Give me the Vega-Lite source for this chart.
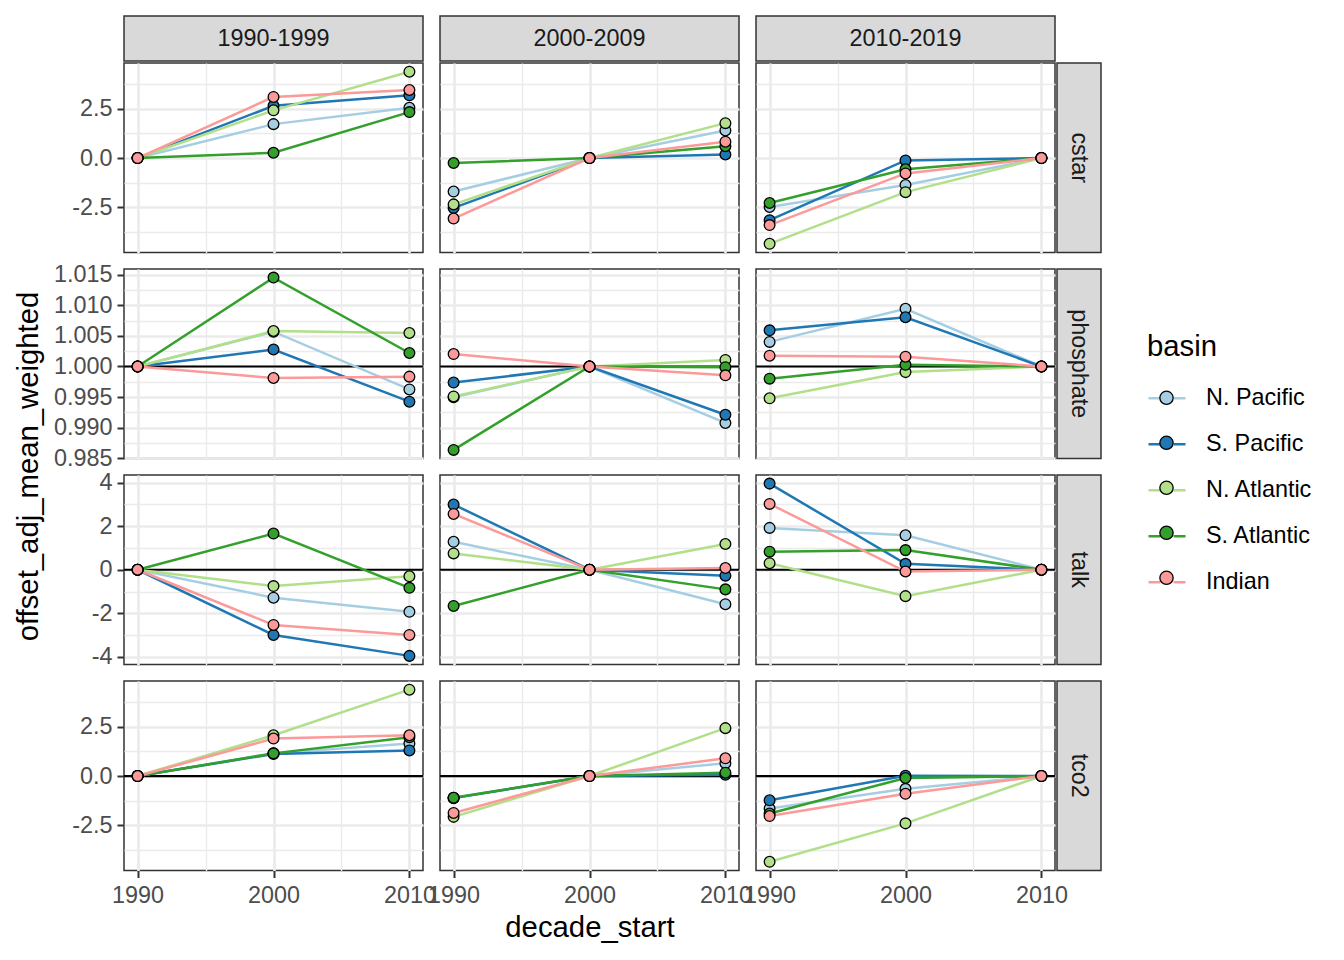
{
"$schema":"https://vega.github.io/schema/vega-lite/v6.json",
"padding":{"left":13,"top":15,"right":5,"bottom":5},
"background":"white",
"columns":6,
"bounds":"flush",
"align":"each",
"spacing":2,
"resolve":{"scale":{"y":"independent"}},
"datasets":{"main":[
{"variable":"cstar","ref":"1990-1999","decade_start":1990,"basin":"N. Pacific","value":0},
{"variable":"cstar","ref":"1990-1999","decade_start":2000,"basin":"N. Pacific","value":1.72},
{"variable":"cstar","ref":"1990-1999","decade_start":2010,"basin":"N. Pacific","value":2.55},
{"variable":"cstar","ref":"1990-1999","decade_start":1990,"basin":"S. Pacific","value":0},
{"variable":"cstar","ref":"1990-1999","decade_start":2000,"basin":"S. Pacific","value":2.65},
{"variable":"cstar","ref":"1990-1999","decade_start":2010,"basin":"S. Pacific","value":3.18},
{"variable":"cstar","ref":"1990-1999","decade_start":1990,"basin":"N. Atlantic","value":0},
{"variable":"cstar","ref":"1990-1999","decade_start":2000,"basin":"N. Atlantic","value":2.42},
{"variable":"cstar","ref":"1990-1999","decade_start":2010,"basin":"N. Atlantic","value":4.38},
{"variable":"cstar","ref":"1990-1999","decade_start":1990,"basin":"S. Atlantic","value":0},
{"variable":"cstar","ref":"1990-1999","decade_start":2000,"basin":"S. Atlantic","value":0.27},
{"variable":"cstar","ref":"1990-1999","decade_start":2010,"basin":"S. Atlantic","value":2.33},
{"variable":"cstar","ref":"1990-1999","decade_start":1990,"basin":"Indian","value":0},
{"variable":"cstar","ref":"1990-1999","decade_start":2000,"basin":"Indian","value":3.1},
{"variable":"cstar","ref":"1990-1999","decade_start":2010,"basin":"Indian","value":3.45},
{"variable":"cstar","ref":"2000-2009","decade_start":1990,"basin":"N. Pacific","value":-1.7},
{"variable":"cstar","ref":"2000-2009","decade_start":2000,"basin":"N. Pacific","value":0},
{"variable":"cstar","ref":"2000-2009","decade_start":2010,"basin":"N. Pacific","value":1.4},
{"variable":"cstar","ref":"2000-2009","decade_start":1990,"basin":"S. Pacific","value":-2.53},
{"variable":"cstar","ref":"2000-2009","decade_start":2000,"basin":"S. Pacific","value":0},
{"variable":"cstar","ref":"2000-2009","decade_start":2010,"basin":"S. Pacific","value":0.18},
{"variable":"cstar","ref":"2000-2009","decade_start":1990,"basin":"N. Atlantic","value":-2.35},
{"variable":"cstar","ref":"2000-2009","decade_start":2000,"basin":"N. Atlantic","value":0},
{"variable":"cstar","ref":"2000-2009","decade_start":2010,"basin":"N. Atlantic","value":1.77},
{"variable":"cstar","ref":"2000-2009","decade_start":1990,"basin":"S. Atlantic","value":-0.25},
{"variable":"cstar","ref":"2000-2009","decade_start":2000,"basin":"S. Atlantic","value":0},
{"variable":"cstar","ref":"2000-2009","decade_start":2010,"basin":"S. Atlantic","value":0.6},
{"variable":"cstar","ref":"2000-2009","decade_start":1990,"basin":"Indian","value":-3.07},
{"variable":"cstar","ref":"2000-2009","decade_start":2000,"basin":"Indian","value":0},
{"variable":"cstar","ref":"2000-2009","decade_start":2010,"basin":"Indian","value":0.83},
{"variable":"cstar","ref":"2010-2019","decade_start":1990,"basin":"N. Pacific","value":-2.48},
{"variable":"cstar","ref":"2010-2019","decade_start":2000,"basin":"N. Pacific","value":-1.37},
{"variable":"cstar","ref":"2010-2019","decade_start":2010,"basin":"N. Pacific","value":0},
{"variable":"cstar","ref":"2010-2019","decade_start":1990,"basin":"S. Pacific","value":-3.15},
{"variable":"cstar","ref":"2010-2019","decade_start":2000,"basin":"S. Pacific","value":-0.12},
{"variable":"cstar","ref":"2010-2019","decade_start":2010,"basin":"S. Pacific","value":0},
{"variable":"cstar","ref":"2010-2019","decade_start":1990,"basin":"N. Atlantic","value":-4.35},
{"variable":"cstar","ref":"2010-2019","decade_start":2000,"basin":"N. Atlantic","value":-1.73},
{"variable":"cstar","ref":"2010-2019","decade_start":2010,"basin":"N. Atlantic","value":0},
{"variable":"cstar","ref":"2010-2019","decade_start":1990,"basin":"S. Atlantic","value":-2.28},
{"variable":"cstar","ref":"2010-2019","decade_start":2000,"basin":"S. Atlantic","value":-0.57},
{"variable":"cstar","ref":"2010-2019","decade_start":2010,"basin":"S. Atlantic","value":0},
{"variable":"cstar","ref":"2010-2019","decade_start":1990,"basin":"Indian","value":-3.4},
{"variable":"cstar","ref":"2010-2019","decade_start":2000,"basin":"Indian","value":-0.78},
{"variable":"cstar","ref":"2010-2019","decade_start":2010,"basin":"Indian","value":0},
{"variable":"phosphate","ref":"1990-1999","decade_start":1990,"basin":"N. Pacific","value":1},
{"variable":"phosphate","ref":"1990-1999","decade_start":2000,"basin":"N. Pacific","value":1.0057},
{"variable":"phosphate","ref":"1990-1999","decade_start":2010,"basin":"N. Pacific","value":0.99624},
{"variable":"phosphate","ref":"1990-1999","decade_start":1990,"basin":"S. Pacific","value":1},
{"variable":"phosphate","ref":"1990-1999","decade_start":2000,"basin":"S. Pacific","value":1.00279},
{"variable":"phosphate","ref":"1990-1999","decade_start":2010,"basin":"S. Pacific","value":0.99424},
{"variable":"phosphate","ref":"1990-1999","decade_start":1990,"basin":"N. Atlantic","value":1},
{"variable":"phosphate","ref":"1990-1999","decade_start":2000,"basin":"N. Atlantic","value":1.00581},
{"variable":"phosphate","ref":"1990-1999","decade_start":2010,"basin":"N. Atlantic","value":1.00548},
{"variable":"phosphate","ref":"1990-1999","decade_start":1990,"basin":"S. Atlantic","value":1},
{"variable":"phosphate","ref":"1990-1999","decade_start":2000,"basin":"S. Atlantic","value":1.01456},
{"variable":"phosphate","ref":"1990-1999","decade_start":2010,"basin":"S. Atlantic","value":1.00221},
{"variable":"phosphate","ref":"1990-1999","decade_start":1990,"basin":"Indian","value":1},
{"variable":"phosphate","ref":"1990-1999","decade_start":2000,"basin":"Indian","value":0.99811},
{"variable":"phosphate","ref":"1990-1999","decade_start":2010,"basin":"Indian","value":0.99834},
{"variable":"phosphate","ref":"2000-2009","decade_start":1990,"basin":"N. Pacific","value":0.99495},
{"variable":"phosphate","ref":"2000-2009","decade_start":2000,"basin":"N. Pacific","value":1},
{"variable":"phosphate","ref":"2000-2009","decade_start":2010,"basin":"N. Pacific","value":0.99075},
{"variable":"phosphate","ref":"2000-2009","decade_start":1990,"basin":"S. Pacific","value":0.99737},
{"variable":"phosphate","ref":"2000-2009","decade_start":2000,"basin":"S. Pacific","value":1},
{"variable":"phosphate","ref":"2000-2009","decade_start":2010,"basin":"S. Pacific","value":0.9921},
{"variable":"phosphate","ref":"2000-2009","decade_start":1990,"basin":"N. Atlantic","value":0.9951},
{"variable":"phosphate","ref":"2000-2009","decade_start":2000,"basin":"N. Atlantic","value":1},
{"variable":"phosphate","ref":"2000-2009","decade_start":2010,"basin":"N. Atlantic","value":1.00108},
{"variable":"phosphate","ref":"2000-2009","decade_start":1990,"basin":"S. Atlantic","value":0.98634},
{"variable":"phosphate","ref":"2000-2009","decade_start":2000,"basin":"S. Atlantic","value":1},
{"variable":"phosphate","ref":"2000-2009","decade_start":2010,"basin":"S. Atlantic","value":0.99989},
{"variable":"phosphate","ref":"2000-2009","decade_start":1990,"basin":"Indian","value":1.00204},
{"variable":"phosphate","ref":"2000-2009","decade_start":2000,"basin":"Indian","value":1},
{"variable":"phosphate","ref":"2000-2009","decade_start":2010,"basin":"Indian","value":0.99855},
{"variable":"phosphate","ref":"2010-2019","decade_start":1990,"basin":"N. Pacific","value":1.00403},
{"variable":"phosphate","ref":"2010-2019","decade_start":2000,"basin":"N. Pacific","value":1.00946},
{"variable":"phosphate","ref":"2010-2019","decade_start":2010,"basin":"N. Pacific","value":1},
{"variable":"phosphate","ref":"2010-2019","decade_start":1990,"basin":"S. Pacific","value":1.00592},
{"variable":"phosphate","ref":"2010-2019","decade_start":2000,"basin":"S. Pacific","value":1.00806},
{"variable":"phosphate","ref":"2010-2019","decade_start":2010,"basin":"S. Pacific","value":1},
{"variable":"phosphate","ref":"2010-2019","decade_start":1990,"basin":"N. Atlantic","value":0.99479},
{"variable":"phosphate","ref":"2010-2019","decade_start":2000,"basin":"N. Atlantic","value":0.99908},
{"variable":"phosphate","ref":"2010-2019","decade_start":2010,"basin":"N. Atlantic","value":1},
{"variable":"phosphate","ref":"2010-2019","decade_start":1990,"basin":"S. Atlantic","value":0.99801},
{"variable":"phosphate","ref":"2010-2019","decade_start":2000,"basin":"S. Atlantic","value":1.00027},
{"variable":"phosphate","ref":"2010-2019","decade_start":2010,"basin":"S. Atlantic","value":1},
{"variable":"phosphate","ref":"2010-2019","decade_start":1990,"basin":"Indian","value":1.00177},
{"variable":"phosphate","ref":"2010-2019","decade_start":2000,"basin":"Indian","value":1.00161},
{"variable":"phosphate","ref":"2010-2019","decade_start":2010,"basin":"Indian","value":1},
{"variable":"talk","ref":"1990-1999","decade_start":1990,"basin":"N. Pacific","value":0},
{"variable":"talk","ref":"1990-1999","decade_start":2000,"basin":"N. Pacific","value":-1.28},
{"variable":"talk","ref":"1990-1999","decade_start":2010,"basin":"N. Pacific","value":-1.93},
{"variable":"talk","ref":"1990-1999","decade_start":1990,"basin":"S. Pacific","value":0},
{"variable":"talk","ref":"1990-1999","decade_start":2000,"basin":"S. Pacific","value":-2.99},
{"variable":"talk","ref":"1990-1999","decade_start":2010,"basin":"S. Pacific","value":-3.95},
{"variable":"talk","ref":"1990-1999","decade_start":1990,"basin":"N. Atlantic","value":0},
{"variable":"talk","ref":"1990-1999","decade_start":2000,"basin":"N. Atlantic","value":-0.75},
{"variable":"talk","ref":"1990-1999","decade_start":2010,"basin":"N. Atlantic","value":-0.3},
{"variable":"talk","ref":"1990-1999","decade_start":1990,"basin":"S. Atlantic","value":0},
{"variable":"talk","ref":"1990-1999","decade_start":2000,"basin":"S. Atlantic","value":1.66},
{"variable":"talk","ref":"1990-1999","decade_start":2010,"basin":"S. Atlantic","value":-0.83},
{"variable":"talk","ref":"1990-1999","decade_start":1990,"basin":"Indian","value":0},
{"variable":"talk","ref":"1990-1999","decade_start":2000,"basin":"Indian","value":-2.53},
{"variable":"talk","ref":"1990-1999","decade_start":2010,"basin":"Indian","value":-2.99},
{"variable":"talk","ref":"2000-2009","decade_start":1990,"basin":"N. Pacific","value":1.28},
{"variable":"talk","ref":"2000-2009","decade_start":2000,"basin":"N. Pacific","value":0},
{"variable":"talk","ref":"2000-2009","decade_start":2010,"basin":"N. Pacific","value":-1.58},
{"variable":"talk","ref":"2000-2009","decade_start":1990,"basin":"S. Pacific","value":2.99},
{"variable":"talk","ref":"2000-2009","decade_start":2000,"basin":"S. Pacific","value":0},
{"variable":"talk","ref":"2000-2009","decade_start":2010,"basin":"S. Pacific","value":-0.27},
{"variable":"talk","ref":"2000-2009","decade_start":1990,"basin":"N. Atlantic","value":0.75},
{"variable":"talk","ref":"2000-2009","decade_start":2000,"basin":"N. Atlantic","value":0},
{"variable":"talk","ref":"2000-2009","decade_start":2010,"basin":"N. Atlantic","value":1.18},
{"variable":"talk","ref":"2000-2009","decade_start":1990,"basin":"S. Atlantic","value":-1.66},
{"variable":"talk","ref":"2000-2009","decade_start":2000,"basin":"S. Atlantic","value":0},
{"variable":"talk","ref":"2000-2009","decade_start":2010,"basin":"S. Atlantic","value":-0.9},
{"variable":"talk","ref":"2000-2009","decade_start":1990,"basin":"Indian","value":2.56},
{"variable":"talk","ref":"2000-2009","decade_start":2000,"basin":"Indian","value":0},
{"variable":"talk","ref":"2000-2009","decade_start":2010,"basin":"Indian","value":0.08},
{"variable":"talk","ref":"2010-2019","decade_start":1990,"basin":"N. Pacific","value":1.92},
{"variable":"talk","ref":"2010-2019","decade_start":2000,"basin":"N. Pacific","value":1.58},
{"variable":"talk","ref":"2010-2019","decade_start":2010,"basin":"N. Pacific","value":0},
{"variable":"talk","ref":"2010-2019","decade_start":1990,"basin":"S. Pacific","value":3.95},
{"variable":"talk","ref":"2010-2019","decade_start":2000,"basin":"S. Pacific","value":0.27},
{"variable":"talk","ref":"2010-2019","decade_start":2010,"basin":"S. Pacific","value":0},
{"variable":"talk","ref":"2010-2019","decade_start":1990,"basin":"N. Atlantic","value":0.3},
{"variable":"talk","ref":"2010-2019","decade_start":2000,"basin":"N. Atlantic","value":-1.21},
{"variable":"talk","ref":"2010-2019","decade_start":2010,"basin":"N. Atlantic","value":0},
{"variable":"talk","ref":"2010-2019","decade_start":1990,"basin":"S. Atlantic","value":0.83},
{"variable":"talk","ref":"2010-2019","decade_start":2000,"basin":"S. Atlantic","value":0.9},
{"variable":"talk","ref":"2010-2019","decade_start":2010,"basin":"S. Atlantic","value":0},
{"variable":"talk","ref":"2010-2019","decade_start":1990,"basin":"Indian","value":3.02},
{"variable":"talk","ref":"2010-2019","decade_start":2000,"basin":"Indian","value":-0.08},
{"variable":"talk","ref":"2010-2019","decade_start":2010,"basin":"Indian","value":0},
{"variable":"tco2","ref":"1990-1999","decade_start":1990,"basin":"N. Pacific","value":0},
{"variable":"tco2","ref":"1990-1999","decade_start":2000,"basin":"N. Pacific","value":1.15},
{"variable":"tco2","ref":"1990-1999","decade_start":2010,"basin":"N. Pacific","value":1.65},
{"variable":"tco2","ref":"1990-1999","decade_start":1990,"basin":"S. Pacific","value":0},
{"variable":"tco2","ref":"1990-1999","decade_start":2000,"basin":"S. Pacific","value":1.12},
{"variable":"tco2","ref":"1990-1999","decade_start":2010,"basin":"S. Pacific","value":1.3},
{"variable":"tco2","ref":"1990-1999","decade_start":1990,"basin":"N. Atlantic","value":0},
{"variable":"tco2","ref":"1990-1999","decade_start":2000,"basin":"N. Atlantic","value":2.07},
{"variable":"tco2","ref":"1990-1999","decade_start":2010,"basin":"N. Atlantic","value":4.38},
{"variable":"tco2","ref":"1990-1999","decade_start":1990,"basin":"S. Atlantic","value":0},
{"variable":"tco2","ref":"1990-1999","decade_start":2000,"basin":"S. Atlantic","value":1.15},
{"variable":"tco2","ref":"1990-1999","decade_start":2010,"basin":"S. Atlantic","value":1.97},
{"variable":"tco2","ref":"1990-1999","decade_start":1990,"basin":"Indian","value":0},
{"variable":"tco2","ref":"1990-1999","decade_start":2000,"basin":"Indian","value":1.9},
{"variable":"tco2","ref":"1990-1999","decade_start":2010,"basin":"Indian","value":2.07},
{"variable":"tco2","ref":"2000-2009","decade_start":1990,"basin":"N. Pacific","value":-1.1},
{"variable":"tco2","ref":"2000-2009","decade_start":2000,"basin":"N. Pacific","value":0},
{"variable":"tco2","ref":"2000-2009","decade_start":2010,"basin":"N. Pacific","value":0.65},
{"variable":"tco2","ref":"2000-2009","decade_start":1990,"basin":"S. Pacific","value":-1.12},
{"variable":"tco2","ref":"2000-2009","decade_start":2000,"basin":"S. Pacific","value":0},
{"variable":"tco2","ref":"2000-2009","decade_start":2010,"basin":"S. Pacific","value":0.07},
{"variable":"tco2","ref":"2000-2009","decade_start":1990,"basin":"N. Atlantic","value":-2.07},
{"variable":"tco2","ref":"2000-2009","decade_start":2000,"basin":"N. Atlantic","value":0},
{"variable":"tco2","ref":"2000-2009","decade_start":2010,"basin":"N. Atlantic","value":2.43},
{"variable":"tco2","ref":"2000-2009","decade_start":1990,"basin":"S. Atlantic","value":-1.1},
{"variable":"tco2","ref":"2000-2009","decade_start":2000,"basin":"S. Atlantic","value":0},
{"variable":"tco2","ref":"2000-2009","decade_start":2010,"basin":"S. Atlantic","value":0.17},
{"variable":"tco2","ref":"2000-2009","decade_start":1990,"basin":"Indian","value":-1.87},
{"variable":"tco2","ref":"2000-2009","decade_start":2000,"basin":"Indian","value":0},
{"variable":"tco2","ref":"2000-2009","decade_start":2010,"basin":"Indian","value":0.9},
{"variable":"tco2","ref":"2010-2019","decade_start":1990,"basin":"N. Pacific","value":-1.65},
{"variable":"tco2","ref":"2010-2019","decade_start":2000,"basin":"N. Pacific","value":-0.65},
{"variable":"tco2","ref":"2010-2019","decade_start":2010,"basin":"N. Pacific","value":0},
{"variable":"tco2","ref":"2010-2019","decade_start":1990,"basin":"S. Pacific","value":-1.23},
{"variable":"tco2","ref":"2010-2019","decade_start":2000,"basin":"S. Pacific","value":0.02},
{"variable":"tco2","ref":"2010-2019","decade_start":2010,"basin":"S. Pacific","value":0},
{"variable":"tco2","ref":"2010-2019","decade_start":1990,"basin":"N. Atlantic","value":-4.35},
{"variable":"tco2","ref":"2010-2019","decade_start":2000,"basin":"N. Atlantic","value":-2.4},
{"variable":"tco2","ref":"2010-2019","decade_start":2010,"basin":"N. Atlantic","value":0},
{"variable":"tco2","ref":"2010-2019","decade_start":1990,"basin":"S. Atlantic","value":-1.9},
{"variable":"tco2","ref":"2010-2019","decade_start":2000,"basin":"S. Atlantic","value":-0.1},
{"variable":"tco2","ref":"2010-2019","decade_start":2010,"basin":"S. Atlantic","value":0},
{"variable":"tco2","ref":"2010-2019","decade_start":1990,"basin":"Indian","value":-2.03},
{"variable":"tco2","ref":"2010-2019","decade_start":2000,"basin":"Indian","value":-0.9},
{"variable":"tco2","ref":"2010-2019","decade_start":2010,"basin":"Indian","value":0}
]},
"concat":[
{"width":299,"height":45,"view":{"fill":"#D9D9D9","stroke":"#333333","strokeWidth":1.5},"data":{"values":[{"label":"1990-1999"}]},"mark":{"type":"text","fontSize":23.4,"color":"#1A1A1A","font":"Liberation Sans"},"encoding":{"text":{"field":"label","type":"nominal"}}},
{"width":12.5,"height":11.8,"view":{"stroke":null},"data":{"values":[]},"mark":"point"},
{"width":299,"height":45,"view":{"fill":"#D9D9D9","stroke":"#333333","strokeWidth":1.5},"data":{"values":[{"label":"2000-2009"}]},"mark":{"type":"text","fontSize":23.4,"color":"#1A1A1A","font":"Liberation Sans"},"encoding":{"text":{"field":"label","type":"nominal"}}},
{"width":12.5,"height":11.8,"view":{"stroke":null},"data":{"values":[]},"mark":"point"},
{"width":299,"height":45,"view":{"fill":"#D9D9D9","stroke":"#333333","strokeWidth":1.5},"data":{"values":[{"label":"2010-2019"}]},"mark":{"type":"text","fontSize":23.4,"color":"#1A1A1A","font":"Liberation Sans"},"encoding":{"text":{"field":"label","type":"nominal"}}},
{"width":12.5,"height":11.8,"view":{"stroke":null},"data":{"values":[]},"mark":"point"},

{"width":299,"height":189.5,"data":{"name":"main"},"layer":[
 {"transform":[{"filter":"datum.variable === 'cstar' && datum.ref === '1990-1999'"}],"mark":{"type":"line","strokeWidth":2.5},"encoding":{
  "x":{"field":"decade_start","type":"quantitative","scale":{"domain":[1989,2011],"nice":false,"zero":false},"axis":{"values":[1990,1995,2000,2005,2010],"title":null,"labels":false,"ticks":false,"gridWidth":{"condition":{"test":"datum.value % 10 === 0","value":2.7},"value":1.4}}},
  "y":{"field":"value","type":"quantitative","scale":{"domain":[-4.79,4.82],"nice":false,"zero":false},"axis":{"values":[-3.75,-2.5,-1.25,0,1.25,2.5,3.75],"title":null,"labelExpr":"abs(datum.value) % 2.5 < 0.001 ? replace(format(datum.value, '.1f'), '−', '-') : ''","gridWidth":{"condition":{"test":"abs(datum.value) % 2.5 < 0.001","value":2.7},"value":1.4},"tickOpacity":{"condition":{"test":"abs(datum.value) % 2.5 < 0.001","value":1},"value":0}}},
  "color":{"field":"basin","type":"nominal","scale":{"domain":["N. Pacific","S. Pacific","N. Atlantic","S. Atlantic","Indian"],"range":["#A6CEE3","#1F78B4","#B2DF8A","#33A02C","#FB9A99"]},"legend":{"title":"basin","orient":"none","legendX":1023,"legendY":317,"symbolType":"M-1,0L-0.36,0M0.36,0L1,0","symbolStrokeWidth":2.5}}}},
 {"transform":[{"filter":"datum.variable === 'cstar' && datum.ref === '1990-1999'"}],"mark":{"type":"point","filled":true,"stroke":"black","strokeWidth":1.3,"size":115,"opacity":1},"encoding":{
  "x":{"field":"decade_start","type":"quantitative","scale":{"domain":[1989,2011],"nice":false,"zero":false},"axis":{"values":[1990,1995,2000,2005,2010],"title":null,"labels":false,"ticks":false,"gridWidth":{"condition":{"test":"datum.value % 10 === 0","value":2.7},"value":1.4}}},
  "y":{"field":"value","type":"quantitative","scale":{"domain":[-4.79,4.82],"nice":false,"zero":false},"axis":{"values":[-3.75,-2.5,-1.25,0,1.25,2.5,3.75],"title":null,"labelExpr":"abs(datum.value) % 2.5 < 0.001 ? replace(format(datum.value, '.1f'), '−', '-') : ''","gridWidth":{"condition":{"test":"abs(datum.value) % 2.5 < 0.001","value":2.7},"value":1.4},"tickOpacity":{"condition":{"test":"abs(datum.value) % 2.5 < 0.001","value":1},"value":0}}},
  "fill":{"field":"basin","type":"nominal","sort":["N. Pacific","S. Pacific","N. Atlantic","S. Atlantic","Indian"],"scale":{"range":["#A6CEE3","#1F78B4","#B2DF8A","#33A02C","#FB9A99"]},"legend":{"title":"basin","orient":"none","legendX":1023,"legendY":317,"titleOpacity":0,"labelOpacity":0,"symbolType":"M-0.36,0A0.36,0.36,0,1,1,0.36,0A0.36,0.36,0,1,1,-0.36,0Z","symbolStrokeColor":"black","symbolStrokeWidth":1.3}}}}
]},
{"width":12.5,"height":11.8,"view":{"stroke":null},"data":{"values":[]},"mark":"point"},
{"width":299,"height":189.5,"data":{"name":"main"},"layer":[
 {"transform":[{"filter":"datum.variable === 'cstar' && datum.ref === '2000-2009'"}],"mark":{"type":"line","strokeWidth":2.5},"encoding":{
  "x":{"field":"decade_start","type":"quantitative","scale":{"domain":[1989,2011],"nice":false,"zero":false},"axis":{"values":[1990,1995,2000,2005,2010],"title":null,"labels":false,"ticks":false,"gridWidth":{"condition":{"test":"datum.value % 10 === 0","value":2.7},"value":1.4}}},
  "y":{"field":"value","type":"quantitative","scale":{"domain":[-4.79,4.82],"nice":false,"zero":false},"axis":{"values":[-3.75,-2.5,-1.25,0,1.25,2.5,3.75],"title":null,"labels":false,"ticks":false,"gridWidth":{"condition":{"test":"abs(datum.value) % 2.5 < 0.001","value":2.7},"value":1.4}}},
  "color":{"field":"basin","type":"nominal","scale":{"domain":["N. Pacific","S. Pacific","N. Atlantic","S. Atlantic","Indian"],"range":["#A6CEE3","#1F78B4","#B2DF8A","#33A02C","#FB9A99"]},"legend":{"title":"basin","orient":"none","legendX":1023,"legendY":317,"symbolType":"M-1,0L-0.36,0M0.36,0L1,0","symbolStrokeWidth":2.5}}}},
 {"transform":[{"filter":"datum.variable === 'cstar' && datum.ref === '2000-2009'"}],"mark":{"type":"point","filled":true,"stroke":"black","strokeWidth":1.3,"size":115,"opacity":1},"encoding":{
  "x":{"field":"decade_start","type":"quantitative","scale":{"domain":[1989,2011],"nice":false,"zero":false},"axis":{"values":[1990,1995,2000,2005,2010],"title":null,"labels":false,"ticks":false,"gridWidth":{"condition":{"test":"datum.value % 10 === 0","value":2.7},"value":1.4}}},
  "y":{"field":"value","type":"quantitative","scale":{"domain":[-4.79,4.82],"nice":false,"zero":false},"axis":{"values":[-3.75,-2.5,-1.25,0,1.25,2.5,3.75],"title":null,"labels":false,"ticks":false,"gridWidth":{"condition":{"test":"abs(datum.value) % 2.5 < 0.001","value":2.7},"value":1.4}}},
  "fill":{"field":"basin","type":"nominal","sort":["N. Pacific","S. Pacific","N. Atlantic","S. Atlantic","Indian"],"scale":{"range":["#A6CEE3","#1F78B4","#B2DF8A","#33A02C","#FB9A99"]},"legend":{"title":"basin","orient":"none","legendX":1023,"legendY":317,"titleOpacity":0,"labelOpacity":0,"symbolType":"M-0.36,0A0.36,0.36,0,1,1,0.36,0A0.36,0.36,0,1,1,-0.36,0Z","symbolStrokeColor":"black","symbolStrokeWidth":1.3}}}}
]},
{"width":12.5,"height":11.8,"view":{"stroke":null},"data":{"values":[]},"mark":"point"},
{"width":299,"height":189.5,"data":{"name":"main"},"layer":[
 {"transform":[{"filter":"datum.variable === 'cstar' && datum.ref === '2010-2019'"}],"mark":{"type":"line","strokeWidth":2.5},"encoding":{
  "x":{"field":"decade_start","type":"quantitative","scale":{"domain":[1989,2011],"nice":false,"zero":false},"axis":{"values":[1990,1995,2000,2005,2010],"title":null,"labels":false,"ticks":false,"gridWidth":{"condition":{"test":"datum.value % 10 === 0","value":2.7},"value":1.4}}},
  "y":{"field":"value","type":"quantitative","scale":{"domain":[-4.79,4.82],"nice":false,"zero":false},"axis":{"values":[-3.75,-2.5,-1.25,0,1.25,2.5,3.75],"title":null,"labels":false,"ticks":false,"gridWidth":{"condition":{"test":"abs(datum.value) % 2.5 < 0.001","value":2.7},"value":1.4}}},
  "color":{"field":"basin","type":"nominal","scale":{"domain":["N. Pacific","S. Pacific","N. Atlantic","S. Atlantic","Indian"],"range":["#A6CEE3","#1F78B4","#B2DF8A","#33A02C","#FB9A99"]},"legend":{"title":"basin","orient":"none","legendX":1023,"legendY":317,"symbolType":"M-1,0L-0.36,0M0.36,0L1,0","symbolStrokeWidth":2.5}}}},
 {"transform":[{"filter":"datum.variable === 'cstar' && datum.ref === '2010-2019'"}],"mark":{"type":"point","filled":true,"stroke":"black","strokeWidth":1.3,"size":115,"opacity":1},"encoding":{
  "x":{"field":"decade_start","type":"quantitative","scale":{"domain":[1989,2011],"nice":false,"zero":false},"axis":{"values":[1990,1995,2000,2005,2010],"title":null,"labels":false,"ticks":false,"gridWidth":{"condition":{"test":"datum.value % 10 === 0","value":2.7},"value":1.4}}},
  "y":{"field":"value","type":"quantitative","scale":{"domain":[-4.79,4.82],"nice":false,"zero":false},"axis":{"values":[-3.75,-2.5,-1.25,0,1.25,2.5,3.75],"title":null,"labels":false,"ticks":false,"gridWidth":{"condition":{"test":"abs(datum.value) % 2.5 < 0.001","value":2.7},"value":1.4}}},
  "fill":{"field":"basin","type":"nominal","sort":["N. Pacific","S. Pacific","N. Atlantic","S. Atlantic","Indian"],"scale":{"range":["#A6CEE3","#1F78B4","#B2DF8A","#33A02C","#FB9A99"]},"legend":{"title":"basin","orient":"none","legendX":1023,"legendY":317,"titleOpacity":0,"labelOpacity":0,"symbolType":"M-0.36,0A0.36,0.36,0,1,1,0.36,0A0.36,0.36,0,1,1,-0.36,0Z","symbolStrokeColor":"black","symbolStrokeWidth":1.3}}}}
]},
{"width":44,"height":189.5,"view":{"fill":"#D9D9D9","stroke":"#333333","strokeWidth":1.5},"data":{"values":[{"label":"cstar"}]},"mark":{"type":"text","angle":90,"fontSize":23.4,"color":"#1A1A1A","font":"Liberation Sans"},"encoding":{"text":{"field":"label","type":"nominal"}}},

{"width":12.5,"height":11.8,"view":{"stroke":null},"data":{"values":[]},"mark":"point"},
{"width":12.5,"height":11.8,"view":{"stroke":null},"data":{"values":[]},"mark":"point"},
{"width":12.5,"height":11.8,"view":{"stroke":null},"data":{"values":[]},"mark":"point"},
{"width":12.5,"height":11.8,"view":{"stroke":null},"data":{"values":[]},"mark":"point"},
{"width":12.5,"height":11.8,"view":{"stroke":null},"data":{"values":[]},"mark":"point"},
{"width":12.5,"height":11.8,"view":{"stroke":null},"data":{"values":[]},"mark":"point"},

{"width":299,"height":189.5,"data":{"name":"main"},"layer":[
 {"data":{"values":[{"yref":1}]},"mark":{"type":"rule","color":"black","strokeWidth":2.2},"encoding":{"y":{"field":"yref","type":"quantitative","scale":{"domain":[0.98493,1.01597],"nice":false,"zero":false},"axis":{"values":[0.985,0.9875,0.99,0.9925,0.995,0.9975,1,1.0025,1.005,1.0075,1.01,1.0125,1.015],"title":"offset_adj_mean_weighted","titleX":-96,"titleY":197,"titleAngle":270,"titleAlign":"center","titleBaseline":"middle","labelExpr":"abs(datum.value*200 - round(datum.value*200)) < 0.01 ? format(datum.value, '.3f') : ''","gridWidth":{"condition":{"test":"abs(datum.value*200 - round(datum.value*200)) < 0.01","value":2.7},"value":1.4},"tickOpacity":{"condition":{"test":"abs(datum.value*200 - round(datum.value*200)) < 0.01","value":1},"value":0}}}}},
 {"transform":[{"filter":"datum.variable === 'phosphate' && datum.ref === '1990-1999'"}],"mark":{"type":"line","strokeWidth":2.5},"encoding":{
  "x":{"field":"decade_start","type":"quantitative","scale":{"domain":[1989,2011],"nice":false,"zero":false},"axis":{"values":[1990,1995,2000,2005,2010],"title":null,"labels":false,"ticks":false,"gridWidth":{"condition":{"test":"datum.value % 10 === 0","value":2.7},"value":1.4}}},
  "y":{"field":"value","type":"quantitative","scale":{"domain":[0.98493,1.01597],"nice":false,"zero":false},"axis":{"values":[0.985,0.9875,0.99,0.9925,0.995,0.9975,1,1.0025,1.005,1.0075,1.01,1.0125,1.015],"title":"offset_adj_mean_weighted","titleX":-96,"titleY":197,"titleAngle":270,"titleAlign":"center","titleBaseline":"middle","labelExpr":"abs(datum.value*200 - round(datum.value*200)) < 0.01 ? format(datum.value, '.3f') : ''","gridWidth":{"condition":{"test":"abs(datum.value*200 - round(datum.value*200)) < 0.01","value":2.7},"value":1.4},"tickOpacity":{"condition":{"test":"abs(datum.value*200 - round(datum.value*200)) < 0.01","value":1},"value":0}}},
  "color":{"field":"basin","type":"nominal","scale":{"domain":["N. Pacific","S. Pacific","N. Atlantic","S. Atlantic","Indian"],"range":["#A6CEE3","#1F78B4","#B2DF8A","#33A02C","#FB9A99"]},"legend":{"title":"basin","orient":"none","legendX":1023,"legendY":317,"symbolType":"M-1,0L-0.36,0M0.36,0L1,0","symbolStrokeWidth":2.5}}}},
 {"transform":[{"filter":"datum.variable === 'phosphate' && datum.ref === '1990-1999'"}],"mark":{"type":"point","filled":true,"stroke":"black","strokeWidth":1.3,"size":115,"opacity":1},"encoding":{
  "x":{"field":"decade_start","type":"quantitative","scale":{"domain":[1989,2011],"nice":false,"zero":false},"axis":{"values":[1990,1995,2000,2005,2010],"title":null,"labels":false,"ticks":false,"gridWidth":{"condition":{"test":"datum.value % 10 === 0","value":2.7},"value":1.4}}},
  "y":{"field":"value","type":"quantitative","scale":{"domain":[0.98493,1.01597],"nice":false,"zero":false},"axis":{"values":[0.985,0.9875,0.99,0.9925,0.995,0.9975,1,1.0025,1.005,1.0075,1.01,1.0125,1.015],"title":"offset_adj_mean_weighted","titleX":-96,"titleY":197,"titleAngle":270,"titleAlign":"center","titleBaseline":"middle","labelExpr":"abs(datum.value*200 - round(datum.value*200)) < 0.01 ? format(datum.value, '.3f') : ''","gridWidth":{"condition":{"test":"abs(datum.value*200 - round(datum.value*200)) < 0.01","value":2.7},"value":1.4},"tickOpacity":{"condition":{"test":"abs(datum.value*200 - round(datum.value*200)) < 0.01","value":1},"value":0}}},
  "fill":{"field":"basin","type":"nominal","sort":["N. Pacific","S. Pacific","N. Atlantic","S. Atlantic","Indian"],"scale":{"range":["#A6CEE3","#1F78B4","#B2DF8A","#33A02C","#FB9A99"]},"legend":{"title":"basin","orient":"none","legendX":1023,"legendY":317,"titleOpacity":0,"labelOpacity":0,"symbolType":"M-0.36,0A0.36,0.36,0,1,1,0.36,0A0.36,0.36,0,1,1,-0.36,0Z","symbolStrokeColor":"black","symbolStrokeWidth":1.3}}}}
]},
{"width":12.5,"height":11.8,"view":{"stroke":null},"data":{"values":[]},"mark":"point"},
{"width":299,"height":189.5,"data":{"name":"main"},"layer":[
 {"data":{"values":[{"yref":1}]},"mark":{"type":"rule","color":"black","strokeWidth":2.2},"encoding":{"y":{"field":"yref","type":"quantitative","scale":{"domain":[0.98493,1.01597],"nice":false,"zero":false},"axis":{"values":[0.985,0.9875,0.99,0.9925,0.995,0.9975,1,1.0025,1.005,1.0075,1.01,1.0125,1.015],"title":null,"labels":false,"ticks":false,"gridWidth":{"condition":{"test":"abs(datum.value*200 - round(datum.value*200)) < 0.01","value":2.7},"value":1.4}}}}},
 {"transform":[{"filter":"datum.variable === 'phosphate' && datum.ref === '2000-2009'"}],"mark":{"type":"line","strokeWidth":2.5},"encoding":{
  "x":{"field":"decade_start","type":"quantitative","scale":{"domain":[1989,2011],"nice":false,"zero":false},"axis":{"values":[1990,1995,2000,2005,2010],"title":null,"labels":false,"ticks":false,"gridWidth":{"condition":{"test":"datum.value % 10 === 0","value":2.7},"value":1.4}}},
  "y":{"field":"value","type":"quantitative","scale":{"domain":[0.98493,1.01597],"nice":false,"zero":false},"axis":{"values":[0.985,0.9875,0.99,0.9925,0.995,0.9975,1,1.0025,1.005,1.0075,1.01,1.0125,1.015],"title":null,"labels":false,"ticks":false,"gridWidth":{"condition":{"test":"abs(datum.value*200 - round(datum.value*200)) < 0.01","value":2.7},"value":1.4}}},
  "color":{"field":"basin","type":"nominal","scale":{"domain":["N. Pacific","S. Pacific","N. Atlantic","S. Atlantic","Indian"],"range":["#A6CEE3","#1F78B4","#B2DF8A","#33A02C","#FB9A99"]},"legend":{"title":"basin","orient":"none","legendX":1023,"legendY":317,"symbolType":"M-1,0L-0.36,0M0.36,0L1,0","symbolStrokeWidth":2.5}}}},
 {"transform":[{"filter":"datum.variable === 'phosphate' && datum.ref === '2000-2009'"}],"mark":{"type":"point","filled":true,"stroke":"black","strokeWidth":1.3,"size":115,"opacity":1},"encoding":{
  "x":{"field":"decade_start","type":"quantitative","scale":{"domain":[1989,2011],"nice":false,"zero":false},"axis":{"values":[1990,1995,2000,2005,2010],"title":null,"labels":false,"ticks":false,"gridWidth":{"condition":{"test":"datum.value % 10 === 0","value":2.7},"value":1.4}}},
  "y":{"field":"value","type":"quantitative","scale":{"domain":[0.98493,1.01597],"nice":false,"zero":false},"axis":{"values":[0.985,0.9875,0.99,0.9925,0.995,0.9975,1,1.0025,1.005,1.0075,1.01,1.0125,1.015],"title":null,"labels":false,"ticks":false,"gridWidth":{"condition":{"test":"abs(datum.value*200 - round(datum.value*200)) < 0.01","value":2.7},"value":1.4}}},
  "fill":{"field":"basin","type":"nominal","sort":["N. Pacific","S. Pacific","N. Atlantic","S. Atlantic","Indian"],"scale":{"range":["#A6CEE3","#1F78B4","#B2DF8A","#33A02C","#FB9A99"]},"legend":{"title":"basin","orient":"none","legendX":1023,"legendY":317,"titleOpacity":0,"labelOpacity":0,"symbolType":"M-0.36,0A0.36,0.36,0,1,1,0.36,0A0.36,0.36,0,1,1,-0.36,0Z","symbolStrokeColor":"black","symbolStrokeWidth":1.3}}}}
]},
{"width":12.5,"height":11.8,"view":{"stroke":null},"data":{"values":[]},"mark":"point"},
{"width":299,"height":189.5,"data":{"name":"main"},"layer":[
 {"data":{"values":[{"yref":1}]},"mark":{"type":"rule","color":"black","strokeWidth":2.2},"encoding":{"y":{"field":"yref","type":"quantitative","scale":{"domain":[0.98493,1.01597],"nice":false,"zero":false},"axis":{"values":[0.985,0.9875,0.99,0.9925,0.995,0.9975,1,1.0025,1.005,1.0075,1.01,1.0125,1.015],"title":null,"labels":false,"ticks":false,"gridWidth":{"condition":{"test":"abs(datum.value*200 - round(datum.value*200)) < 0.01","value":2.7},"value":1.4}}}}},
 {"transform":[{"filter":"datum.variable === 'phosphate' && datum.ref === '2010-2019'"}],"mark":{"type":"line","strokeWidth":2.5},"encoding":{
  "x":{"field":"decade_start","type":"quantitative","scale":{"domain":[1989,2011],"nice":false,"zero":false},"axis":{"values":[1990,1995,2000,2005,2010],"title":null,"labels":false,"ticks":false,"gridWidth":{"condition":{"test":"datum.value % 10 === 0","value":2.7},"value":1.4}}},
  "y":{"field":"value","type":"quantitative","scale":{"domain":[0.98493,1.01597],"nice":false,"zero":false},"axis":{"values":[0.985,0.9875,0.99,0.9925,0.995,0.9975,1,1.0025,1.005,1.0075,1.01,1.0125,1.015],"title":null,"labels":false,"ticks":false,"gridWidth":{"condition":{"test":"abs(datum.value*200 - round(datum.value*200)) < 0.01","value":2.7},"value":1.4}}},
  "color":{"field":"basin","type":"nominal","scale":{"domain":["N. Pacific","S. Pacific","N. Atlantic","S. Atlantic","Indian"],"range":["#A6CEE3","#1F78B4","#B2DF8A","#33A02C","#FB9A99"]},"legend":{"title":"basin","orient":"none","legendX":1023,"legendY":317,"symbolType":"M-1,0L-0.36,0M0.36,0L1,0","symbolStrokeWidth":2.5}}}},
 {"transform":[{"filter":"datum.variable === 'phosphate' && datum.ref === '2010-2019'"}],"mark":{"type":"point","filled":true,"stroke":"black","strokeWidth":1.3,"size":115,"opacity":1},"encoding":{
  "x":{"field":"decade_start","type":"quantitative","scale":{"domain":[1989,2011],"nice":false,"zero":false},"axis":{"values":[1990,1995,2000,2005,2010],"title":null,"labels":false,"ticks":false,"gridWidth":{"condition":{"test":"datum.value % 10 === 0","value":2.7},"value":1.4}}},
  "y":{"field":"value","type":"quantitative","scale":{"domain":[0.98493,1.01597],"nice":false,"zero":false},"axis":{"values":[0.985,0.9875,0.99,0.9925,0.995,0.9975,1,1.0025,1.005,1.0075,1.01,1.0125,1.015],"title":null,"labels":false,"ticks":false,"gridWidth":{"condition":{"test":"abs(datum.value*200 - round(datum.value*200)) < 0.01","value":2.7},"value":1.4}}},
  "fill":{"field":"basin","type":"nominal","sort":["N. Pacific","S. Pacific","N. Atlantic","S. Atlantic","Indian"],"scale":{"range":["#A6CEE3","#1F78B4","#B2DF8A","#33A02C","#FB9A99"]},"legend":{"title":"basin","orient":"none","legendX":1023,"legendY":317,"titleOpacity":0,"labelOpacity":0,"symbolType":"M-0.36,0A0.36,0.36,0,1,1,0.36,0A0.36,0.36,0,1,1,-0.36,0Z","symbolStrokeColor":"black","symbolStrokeWidth":1.3}}}}
]},
{"width":44,"height":189.5,"view":{"fill":"#D9D9D9","stroke":"#333333","strokeWidth":1.5},"data":{"values":[{"label":"phosphate"}]},"mark":{"type":"text","angle":90,"fontSize":23.4,"color":"#1A1A1A","font":"Liberation Sans"},"encoding":{"text":{"field":"label","type":"nominal"}}},

{"width":12.5,"height":11.8,"view":{"stroke":null},"data":{"values":[]},"mark":"point"},
{"width":12.5,"height":11.8,"view":{"stroke":null},"data":{"values":[]},"mark":"point"},
{"width":12.5,"height":11.8,"view":{"stroke":null},"data":{"values":[]},"mark":"point"},
{"width":12.5,"height":11.8,"view":{"stroke":null},"data":{"values":[]},"mark":"point"},
{"width":12.5,"height":11.8,"view":{"stroke":null},"data":{"values":[]},"mark":"point"},
{"width":12.5,"height":11.8,"view":{"stroke":null},"data":{"values":[]},"mark":"point"},

{"width":299,"height":189.5,"data":{"name":"main"},"layer":[
 {"data":{"values":[{"yref":0}]},"mark":{"type":"rule","color":"black","strokeWidth":2.2},"encoding":{"y":{"field":"yref","type":"quantitative","scale":{"domain":[-4.345,4.345],"nice":false,"zero":false},"axis":{"values":[-4,-3,-2,-1,0,1,2,3,4],"title":null,"labelExpr":"abs(datum.value) % 2 < 0.001 ? replace(format(datum.value, 'd'), '−', '-') : ''","gridWidth":{"condition":{"test":"abs(datum.value) % 2 < 0.001","value":2.7},"value":1.4},"tickOpacity":{"condition":{"test":"abs(datum.value) % 2 < 0.001","value":1},"value":0}}}}},
 {"transform":[{"filter":"datum.variable === 'talk' && datum.ref === '1990-1999'"}],"mark":{"type":"line","strokeWidth":2.5},"encoding":{
  "x":{"field":"decade_start","type":"quantitative","scale":{"domain":[1989,2011],"nice":false,"zero":false},"axis":{"values":[1990,1995,2000,2005,2010],"title":null,"labels":false,"ticks":false,"gridWidth":{"condition":{"test":"datum.value % 10 === 0","value":2.7},"value":1.4}}},
  "y":{"field":"value","type":"quantitative","scale":{"domain":[-4.345,4.345],"nice":false,"zero":false},"axis":{"values":[-4,-3,-2,-1,0,1,2,3,4],"title":null,"labelExpr":"abs(datum.value) % 2 < 0.001 ? replace(format(datum.value, 'd'), '−', '-') : ''","gridWidth":{"condition":{"test":"abs(datum.value) % 2 < 0.001","value":2.7},"value":1.4},"tickOpacity":{"condition":{"test":"abs(datum.value) % 2 < 0.001","value":1},"value":0}}},
  "color":{"field":"basin","type":"nominal","scale":{"domain":["N. Pacific","S. Pacific","N. Atlantic","S. Atlantic","Indian"],"range":["#A6CEE3","#1F78B4","#B2DF8A","#33A02C","#FB9A99"]},"legend":{"title":"basin","orient":"none","legendX":1023,"legendY":317,"symbolType":"M-1,0L-0.36,0M0.36,0L1,0","symbolStrokeWidth":2.5}}}},
 {"transform":[{"filter":"datum.variable === 'talk' && datum.ref === '1990-1999'"}],"mark":{"type":"point","filled":true,"stroke":"black","strokeWidth":1.3,"size":115,"opacity":1},"encoding":{
  "x":{"field":"decade_start","type":"quantitative","scale":{"domain":[1989,2011],"nice":false,"zero":false},"axis":{"values":[1990,1995,2000,2005,2010],"title":null,"labels":false,"ticks":false,"gridWidth":{"condition":{"test":"datum.value % 10 === 0","value":2.7},"value":1.4}}},
  "y":{"field":"value","type":"quantitative","scale":{"domain":[-4.345,4.345],"nice":false,"zero":false},"axis":{"values":[-4,-3,-2,-1,0,1,2,3,4],"title":null,"labelExpr":"abs(datum.value) % 2 < 0.001 ? replace(format(datum.value, 'd'), '−', '-') : ''","gridWidth":{"condition":{"test":"abs(datum.value) % 2 < 0.001","value":2.7},"value":1.4},"tickOpacity":{"condition":{"test":"abs(datum.value) % 2 < 0.001","value":1},"value":0}}},
  "fill":{"field":"basin","type":"nominal","sort":["N. Pacific","S. Pacific","N. Atlantic","S. Atlantic","Indian"],"scale":{"range":["#A6CEE3","#1F78B4","#B2DF8A","#33A02C","#FB9A99"]},"legend":{"title":"basin","orient":"none","legendX":1023,"legendY":317,"titleOpacity":0,"labelOpacity":0,"symbolType":"M-0.36,0A0.36,0.36,0,1,1,0.36,0A0.36,0.36,0,1,1,-0.36,0Z","symbolStrokeColor":"black","symbolStrokeWidth":1.3}}}}
]},
{"width":12.5,"height":11.8,"view":{"stroke":null},"data":{"values":[]},"mark":"point"},
{"width":299,"height":189.5,"data":{"name":"main"},"layer":[
 {"data":{"values":[{"yref":0}]},"mark":{"type":"rule","color":"black","strokeWidth":2.2},"encoding":{"y":{"field":"yref","type":"quantitative","scale":{"domain":[-4.345,4.345],"nice":false,"zero":false},"axis":{"values":[-4,-3,-2,-1,0,1,2,3,4],"title":null,"labels":false,"ticks":false,"gridWidth":{"condition":{"test":"abs(datum.value) % 2 < 0.001","value":2.7},"value":1.4}}}}},
 {"transform":[{"filter":"datum.variable === 'talk' && datum.ref === '2000-2009'"}],"mark":{"type":"line","strokeWidth":2.5},"encoding":{
  "x":{"field":"decade_start","type":"quantitative","scale":{"domain":[1989,2011],"nice":false,"zero":false},"axis":{"values":[1990,1995,2000,2005,2010],"title":null,"labels":false,"ticks":false,"gridWidth":{"condition":{"test":"datum.value % 10 === 0","value":2.7},"value":1.4}}},
  "y":{"field":"value","type":"quantitative","scale":{"domain":[-4.345,4.345],"nice":false,"zero":false},"axis":{"values":[-4,-3,-2,-1,0,1,2,3,4],"title":null,"labels":false,"ticks":false,"gridWidth":{"condition":{"test":"abs(datum.value) % 2 < 0.001","value":2.7},"value":1.4}}},
  "color":{"field":"basin","type":"nominal","scale":{"domain":["N. Pacific","S. Pacific","N. Atlantic","S. Atlantic","Indian"],"range":["#A6CEE3","#1F78B4","#B2DF8A","#33A02C","#FB9A99"]},"legend":{"title":"basin","orient":"none","legendX":1023,"legendY":317,"symbolType":"M-1,0L-0.36,0M0.36,0L1,0","symbolStrokeWidth":2.5}}}},
 {"transform":[{"filter":"datum.variable === 'talk' && datum.ref === '2000-2009'"}],"mark":{"type":"point","filled":true,"stroke":"black","strokeWidth":1.3,"size":115,"opacity":1},"encoding":{
  "x":{"field":"decade_start","type":"quantitative","scale":{"domain":[1989,2011],"nice":false,"zero":false},"axis":{"values":[1990,1995,2000,2005,2010],"title":null,"labels":false,"ticks":false,"gridWidth":{"condition":{"test":"datum.value % 10 === 0","value":2.7},"value":1.4}}},
  "y":{"field":"value","type":"quantitative","scale":{"domain":[-4.345,4.345],"nice":false,"zero":false},"axis":{"values":[-4,-3,-2,-1,0,1,2,3,4],"title":null,"labels":false,"ticks":false,"gridWidth":{"condition":{"test":"abs(datum.value) % 2 < 0.001","value":2.7},"value":1.4}}},
  "fill":{"field":"basin","type":"nominal","sort":["N. Pacific","S. Pacific","N. Atlantic","S. Atlantic","Indian"],"scale":{"range":["#A6CEE3","#1F78B4","#B2DF8A","#33A02C","#FB9A99"]},"legend":{"title":"basin","orient":"none","legendX":1023,"legendY":317,"titleOpacity":0,"labelOpacity":0,"symbolType":"M-0.36,0A0.36,0.36,0,1,1,0.36,0A0.36,0.36,0,1,1,-0.36,0Z","symbolStrokeColor":"black","symbolStrokeWidth":1.3}}}}
]},
{"width":12.5,"height":11.8,"view":{"stroke":null},"data":{"values":[]},"mark":"point"},
{"width":299,"height":189.5,"data":{"name":"main"},"layer":[
 {"data":{"values":[{"yref":0}]},"mark":{"type":"rule","color":"black","strokeWidth":2.2},"encoding":{"y":{"field":"yref","type":"quantitative","scale":{"domain":[-4.345,4.345],"nice":false,"zero":false},"axis":{"values":[-4,-3,-2,-1,0,1,2,3,4],"title":null,"labels":false,"ticks":false,"gridWidth":{"condition":{"test":"abs(datum.value) % 2 < 0.001","value":2.7},"value":1.4}}}}},
 {"transform":[{"filter":"datum.variable === 'talk' && datum.ref === '2010-2019'"}],"mark":{"type":"line","strokeWidth":2.5},"encoding":{
  "x":{"field":"decade_start","type":"quantitative","scale":{"domain":[1989,2011],"nice":false,"zero":false},"axis":{"values":[1990,1995,2000,2005,2010],"title":null,"labels":false,"ticks":false,"gridWidth":{"condition":{"test":"datum.value % 10 === 0","value":2.7},"value":1.4}}},
  "y":{"field":"value","type":"quantitative","scale":{"domain":[-4.345,4.345],"nice":false,"zero":false},"axis":{"values":[-4,-3,-2,-1,0,1,2,3,4],"title":null,"labels":false,"ticks":false,"gridWidth":{"condition":{"test":"abs(datum.value) % 2 < 0.001","value":2.7},"value":1.4}}},
  "color":{"field":"basin","type":"nominal","scale":{"domain":["N. Pacific","S. Pacific","N. Atlantic","S. Atlantic","Indian"],"range":["#A6CEE3","#1F78B4","#B2DF8A","#33A02C","#FB9A99"]},"legend":{"title":"basin","orient":"none","legendX":1023,"legendY":317,"symbolType":"M-1,0L-0.36,0M0.36,0L1,0","symbolStrokeWidth":2.5}}}},
 {"transform":[{"filter":"datum.variable === 'talk' && datum.ref === '2010-2019'"}],"mark":{"type":"point","filled":true,"stroke":"black","strokeWidth":1.3,"size":115,"opacity":1},"encoding":{
  "x":{"field":"decade_start","type":"quantitative","scale":{"domain":[1989,2011],"nice":false,"zero":false},"axis":{"values":[1990,1995,2000,2005,2010],"title":null,"labels":false,"ticks":false,"gridWidth":{"condition":{"test":"datum.value % 10 === 0","value":2.7},"value":1.4}}},
  "y":{"field":"value","type":"quantitative","scale":{"domain":[-4.345,4.345],"nice":false,"zero":false},"axis":{"values":[-4,-3,-2,-1,0,1,2,3,4],"title":null,"labels":false,"ticks":false,"gridWidth":{"condition":{"test":"abs(datum.value) % 2 < 0.001","value":2.7},"value":1.4}}},
  "fill":{"field":"basin","type":"nominal","sort":["N. Pacific","S. Pacific","N. Atlantic","S. Atlantic","Indian"],"scale":{"range":["#A6CEE3","#1F78B4","#B2DF8A","#33A02C","#FB9A99"]},"legend":{"title":"basin","orient":"none","legendX":1023,"legendY":317,"titleOpacity":0,"labelOpacity":0,"symbolType":"M-0.36,0A0.36,0.36,0,1,1,0.36,0A0.36,0.36,0,1,1,-0.36,0Z","symbolStrokeColor":"black","symbolStrokeWidth":1.3}}}}
]},
{"width":44,"height":189.5,"view":{"fill":"#D9D9D9","stroke":"#333333","strokeWidth":1.5},"data":{"values":[{"label":"talk"}]},"mark":{"type":"text","angle":90,"fontSize":23.4,"color":"#1A1A1A","font":"Liberation Sans"},"encoding":{"text":{"field":"label","type":"nominal"}}},

{"width":12.5,"height":11.8,"view":{"stroke":null},"data":{"values":[]},"mark":"point"},
{"width":12.5,"height":11.8,"view":{"stroke":null},"data":{"values":[]},"mark":"point"},
{"width":12.5,"height":11.8,"view":{"stroke":null},"data":{"values":[]},"mark":"point"},
{"width":12.5,"height":11.8,"view":{"stroke":null},"data":{"values":[]},"mark":"point"},
{"width":12.5,"height":11.8,"view":{"stroke":null},"data":{"values":[]},"mark":"point"},
{"width":12.5,"height":11.8,"view":{"stroke":null},"data":{"values":[]},"mark":"point"},

{"width":299,"height":189.5,"data":{"name":"main"},"layer":[
 {"data":{"values":[{"yref":0}]},"mark":{"type":"rule","color":"black","strokeWidth":2.2},"encoding":{"y":{"field":"yref","type":"quantitative","scale":{"domain":[-4.79,4.82],"nice":false,"zero":false},"axis":{"values":[-3.75,-2.5,-1.25,0,1.25,2.5,3.75],"title":null,"labelExpr":"abs(datum.value) % 2.5 < 0.001 ? replace(format(datum.value, '.1f'), '−', '-') : ''","gridWidth":{"condition":{"test":"abs(datum.value) % 2.5 < 0.001","value":2.7},"value":1.4},"tickOpacity":{"condition":{"test":"abs(datum.value) % 2.5 < 0.001","value":1},"value":0}}}}},
 {"transform":[{"filter":"datum.variable === 'tco2' && datum.ref === '1990-1999'"}],"mark":{"type":"line","strokeWidth":2.5},"encoding":{
  "x":{"field":"decade_start","type":"quantitative","scale":{"domain":[1989,2011],"nice":false,"zero":false},"axis":{"values":[1990,1995,2000,2005,2010],"title":null,"labelExpr":"datum.value % 10 === 0 ? format(datum.value, 'd') : ''","gridWidth":{"condition":{"test":"datum.value % 10 === 0","value":2.7},"value":1.4},"tickOpacity":{"condition":{"test":"datum.value % 10 === 0","value":1},"value":0}}},
  "y":{"field":"value","type":"quantitative","scale":{"domain":[-4.79,4.82],"nice":false,"zero":false},"axis":{"values":[-3.75,-2.5,-1.25,0,1.25,2.5,3.75],"title":null,"labelExpr":"abs(datum.value) % 2.5 < 0.001 ? replace(format(datum.value, '.1f'), '−', '-') : ''","gridWidth":{"condition":{"test":"abs(datum.value) % 2.5 < 0.001","value":2.7},"value":1.4},"tickOpacity":{"condition":{"test":"abs(datum.value) % 2.5 < 0.001","value":1},"value":0}}},
  "color":{"field":"basin","type":"nominal","scale":{"domain":["N. Pacific","S. Pacific","N. Atlantic","S. Atlantic","Indian"],"range":["#A6CEE3","#1F78B4","#B2DF8A","#33A02C","#FB9A99"]},"legend":{"title":"basin","orient":"none","legendX":1023,"legendY":317,"symbolType":"M-1,0L-0.36,0M0.36,0L1,0","symbolStrokeWidth":2.5}}}},
 {"transform":[{"filter":"datum.variable === 'tco2' && datum.ref === '1990-1999'"}],"mark":{"type":"point","filled":true,"stroke":"black","strokeWidth":1.3,"size":115,"opacity":1},"encoding":{
  "x":{"field":"decade_start","type":"quantitative","scale":{"domain":[1989,2011],"nice":false,"zero":false},"axis":{"values":[1990,1995,2000,2005,2010],"title":null,"labelExpr":"datum.value % 10 === 0 ? format(datum.value, 'd') : ''","gridWidth":{"condition":{"test":"datum.value % 10 === 0","value":2.7},"value":1.4},"tickOpacity":{"condition":{"test":"datum.value % 10 === 0","value":1},"value":0}}},
  "y":{"field":"value","type":"quantitative","scale":{"domain":[-4.79,4.82],"nice":false,"zero":false},"axis":{"values":[-3.75,-2.5,-1.25,0,1.25,2.5,3.75],"title":null,"labelExpr":"abs(datum.value) % 2.5 < 0.001 ? replace(format(datum.value, '.1f'), '−', '-') : ''","gridWidth":{"condition":{"test":"abs(datum.value) % 2.5 < 0.001","value":2.7},"value":1.4},"tickOpacity":{"condition":{"test":"abs(datum.value) % 2.5 < 0.001","value":1},"value":0}}},
  "fill":{"field":"basin","type":"nominal","sort":["N. Pacific","S. Pacific","N. Atlantic","S. Atlantic","Indian"],"scale":{"range":["#A6CEE3","#1F78B4","#B2DF8A","#33A02C","#FB9A99"]},"legend":{"title":"basin","orient":"none","legendX":1023,"legendY":317,"titleOpacity":0,"labelOpacity":0,"symbolType":"M-0.36,0A0.36,0.36,0,1,1,0.36,0A0.36,0.36,0,1,1,-0.36,0Z","symbolStrokeColor":"black","symbolStrokeWidth":1.3}}}}
]},
{"width":12.5,"height":11.8,"view":{"stroke":null},"data":{"values":[]},"mark":"point"},
{"width":299,"height":189.5,"data":{"name":"main"},"layer":[
 {"data":{"values":[{"yref":0}]},"mark":{"type":"rule","color":"black","strokeWidth":2.2},"encoding":{"y":{"field":"yref","type":"quantitative","scale":{"domain":[-4.79,4.82],"nice":false,"zero":false},"axis":{"values":[-3.75,-2.5,-1.25,0,1.25,2.5,3.75],"title":null,"labels":false,"ticks":false,"gridWidth":{"condition":{"test":"abs(datum.value) % 2.5 < 0.001","value":2.7},"value":1.4}}}}},
 {"transform":[{"filter":"datum.variable === 'tco2' && datum.ref === '2000-2009'"}],"mark":{"type":"line","strokeWidth":2.5},"encoding":{
  "x":{"field":"decade_start","type":"quantitative","scale":{"domain":[1989,2011],"nice":false,"zero":false},"axis":{"values":[1990,1995,2000,2005,2010],"title":"decade_start","titlePadding":7,"labelExpr":"datum.value % 10 === 0 ? format(datum.value, 'd') : ''","gridWidth":{"condition":{"test":"datum.value % 10 === 0","value":2.7},"value":1.4},"tickOpacity":{"condition":{"test":"datum.value % 10 === 0","value":1},"value":0}}},
  "y":{"field":"value","type":"quantitative","scale":{"domain":[-4.79,4.82],"nice":false,"zero":false},"axis":{"values":[-3.75,-2.5,-1.25,0,1.25,2.5,3.75],"title":null,"labels":false,"ticks":false,"gridWidth":{"condition":{"test":"abs(datum.value) % 2.5 < 0.001","value":2.7},"value":1.4}}},
  "color":{"field":"basin","type":"nominal","scale":{"domain":["N. Pacific","S. Pacific","N. Atlantic","S. Atlantic","Indian"],"range":["#A6CEE3","#1F78B4","#B2DF8A","#33A02C","#FB9A99"]},"legend":{"title":"basin","orient":"none","legendX":1023,"legendY":317,"symbolType":"M-1,0L-0.36,0M0.36,0L1,0","symbolStrokeWidth":2.5}}}},
 {"transform":[{"filter":"datum.variable === 'tco2' && datum.ref === '2000-2009'"}],"mark":{"type":"point","filled":true,"stroke":"black","strokeWidth":1.3,"size":115,"opacity":1},"encoding":{
  "x":{"field":"decade_start","type":"quantitative","scale":{"domain":[1989,2011],"nice":false,"zero":false},"axis":{"values":[1990,1995,2000,2005,2010],"title":"decade_start","titlePadding":7,"labelExpr":"datum.value % 10 === 0 ? format(datum.value, 'd') : ''","gridWidth":{"condition":{"test":"datum.value % 10 === 0","value":2.7},"value":1.4},"tickOpacity":{"condition":{"test":"datum.value % 10 === 0","value":1},"value":0}}},
  "y":{"field":"value","type":"quantitative","scale":{"domain":[-4.79,4.82],"nice":false,"zero":false},"axis":{"values":[-3.75,-2.5,-1.25,0,1.25,2.5,3.75],"title":null,"labels":false,"ticks":false,"gridWidth":{"condition":{"test":"abs(datum.value) % 2.5 < 0.001","value":2.7},"value":1.4}}},
  "fill":{"field":"basin","type":"nominal","sort":["N. Pacific","S. Pacific","N. Atlantic","S. Atlantic","Indian"],"scale":{"range":["#A6CEE3","#1F78B4","#B2DF8A","#33A02C","#FB9A99"]},"legend":{"title":"basin","orient":"none","legendX":1023,"legendY":317,"titleOpacity":0,"labelOpacity":0,"symbolType":"M-0.36,0A0.36,0.36,0,1,1,0.36,0A0.36,0.36,0,1,1,-0.36,0Z","symbolStrokeColor":"black","symbolStrokeWidth":1.3}}}}
]},
{"width":12.5,"height":11.8,"view":{"stroke":null},"data":{"values":[]},"mark":"point"},
{"width":299,"height":189.5,"data":{"name":"main"},"layer":[
 {"data":{"values":[{"yref":0}]},"mark":{"type":"rule","color":"black","strokeWidth":2.2},"encoding":{"y":{"field":"yref","type":"quantitative","scale":{"domain":[-4.79,4.82],"nice":false,"zero":false},"axis":{"values":[-3.75,-2.5,-1.25,0,1.25,2.5,3.75],"title":null,"labels":false,"ticks":false,"gridWidth":{"condition":{"test":"abs(datum.value) % 2.5 < 0.001","value":2.7},"value":1.4}}}}},
 {"transform":[{"filter":"datum.variable === 'tco2' && datum.ref === '2010-2019'"}],"mark":{"type":"line","strokeWidth":2.5},"encoding":{
  "x":{"field":"decade_start","type":"quantitative","scale":{"domain":[1989,2011],"nice":false,"zero":false},"axis":{"values":[1990,1995,2000,2005,2010],"title":null,"labelExpr":"datum.value % 10 === 0 ? format(datum.value, 'd') : ''","gridWidth":{"condition":{"test":"datum.value % 10 === 0","value":2.7},"value":1.4},"tickOpacity":{"condition":{"test":"datum.value % 10 === 0","value":1},"value":0}}},
  "y":{"field":"value","type":"quantitative","scale":{"domain":[-4.79,4.82],"nice":false,"zero":false},"axis":{"values":[-3.75,-2.5,-1.25,0,1.25,2.5,3.75],"title":null,"labels":false,"ticks":false,"gridWidth":{"condition":{"test":"abs(datum.value) % 2.5 < 0.001","value":2.7},"value":1.4}}},
  "color":{"field":"basin","type":"nominal","scale":{"domain":["N. Pacific","S. Pacific","N. Atlantic","S. Atlantic","Indian"],"range":["#A6CEE3","#1F78B4","#B2DF8A","#33A02C","#FB9A99"]},"legend":{"title":"basin","orient":"none","legendX":1023,"legendY":317,"symbolType":"M-1,0L-0.36,0M0.36,0L1,0","symbolStrokeWidth":2.5}}}},
 {"transform":[{"filter":"datum.variable === 'tco2' && datum.ref === '2010-2019'"}],"mark":{"type":"point","filled":true,"stroke":"black","strokeWidth":1.3,"size":115,"opacity":1},"encoding":{
  "x":{"field":"decade_start","type":"quantitative","scale":{"domain":[1989,2011],"nice":false,"zero":false},"axis":{"values":[1990,1995,2000,2005,2010],"title":null,"labelExpr":"datum.value % 10 === 0 ? format(datum.value, 'd') : ''","gridWidth":{"condition":{"test":"datum.value % 10 === 0","value":2.7},"value":1.4},"tickOpacity":{"condition":{"test":"datum.value % 10 === 0","value":1},"value":0}}},
  "y":{"field":"value","type":"quantitative","scale":{"domain":[-4.79,4.82],"nice":false,"zero":false},"axis":{"values":[-3.75,-2.5,-1.25,0,1.25,2.5,3.75],"title":null,"labels":false,"ticks":false,"gridWidth":{"condition":{"test":"abs(datum.value) % 2.5 < 0.001","value":2.7},"value":1.4}}},
  "fill":{"field":"basin","type":"nominal","sort":["N. Pacific","S. Pacific","N. Atlantic","S. Atlantic","Indian"],"scale":{"range":["#A6CEE3","#1F78B4","#B2DF8A","#33A02C","#FB9A99"]},"legend":{"title":"basin","orient":"none","legendX":1023,"legendY":317,"titleOpacity":0,"labelOpacity":0,"symbolType":"M-0.36,0A0.36,0.36,0,1,1,0.36,0A0.36,0.36,0,1,1,-0.36,0Z","symbolStrokeColor":"black","symbolStrokeWidth":1.3}}}}
]},
{"width":44,"height":189.5,"view":{"fill":"#D9D9D9","stroke":"#333333","strokeWidth":1.5},"data":{"values":[{"label":"tco2"}]},"mark":{"type":"text","angle":90,"fontSize":23.4,"color":"#1A1A1A","font":"Liberation Sans"},"encoding":{"text":{"field":"label","type":"nominal"}}}
],
"config":{
 "font":"Liberation Sans",
 "view":{"stroke":"#333333","strokeWidth":1.5},
 "axis":{"domain":false,"gridColor":"#EBEBEB","tickColor":"#333333","tickSize":7,"tickWidth":2,"labelColor":"#4D4D4D","labelFontSize":23.4,"labelFont":"Liberation Sans","labelPadding":5,"labelFlush":false,"labelOverlap":false,"titleFont":"Liberation Sans","titleFontSize":29.3,"titleFontWeight":"normal","titleColor":"black"},
 "axisX":{"labelPadding":7},
 "legend":{"titleFontSize":29.3,"titleFontWeight":"normal","titleColor":"black","titleFont":"Liberation Sans","labelFont":"Liberation Sans","labelFontSize":23.4,"labelColor":"black","symbolSize":1369,"rowPadding":14,"labelOffset":19,"titlePadding":16,"padding":0}
}
}
